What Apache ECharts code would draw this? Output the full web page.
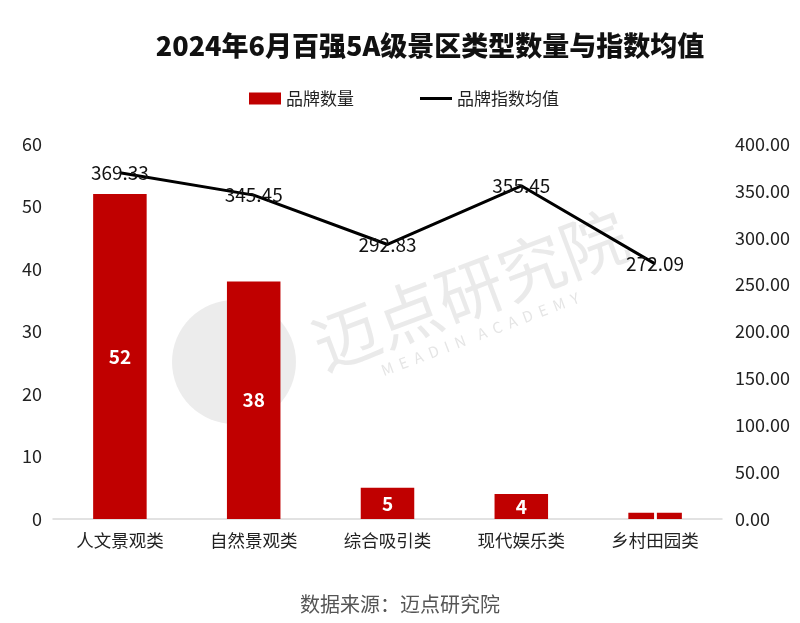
<!DOCTYPE html>
<html>
<head>
<meta charset="utf-8">
<script src="https://cdn.jsdelivr.net/npm/echarts@6/dist/echarts.min.js"></script>
<style>
  html, body { margin: 0; padding: 0; background: #fff; }
  #chart { width: 800px; height: 623px; }
</style>
</head>
<body>
<div id="chart"></div>
<script>
  // 景区类型
  const categories = ['人文景观类', '自然景观类', '综合吸引类', '现代娱乐类', '乡村田园类'];
  // 品牌数量
  const brandCount = [52, 38, 5, 4, 1];
  // 品牌指数均值
  const indexAvg = [369.33, 345.45, 292.83, 355.45, 272.09];

  const font = '"Noto Sans CJK SC", "Noto Sans", sans-serif';
  const chart = echarts.init(document.getElementById('chart'));

  const option = {
    backgroundColor: '#fff',
    textStyle: { fontFamily: font },
    title: {
      text: '2024年6月百强5A级景区类型数量与指数均值',
      left: 425,
      top: 27,
      textAlign: 'center',
      textStyle: { fontSize: 27, fontWeight: 900, color: '#111', fontFamily: font }
    },
    legend: {
      top: 85,
      left: 244,
      itemGap: 66,
      itemWidth: 32,
      itemHeight: 12,
      textStyle: { fontSize: 17, color: '#222', fontFamily: font },
      data: [
        { name: '品牌数量', icon: 'rect' },
        { name: '品牌指数均值', icon: 'path://M0,0H32V3H0Z', itemStyle: { color: '#000' } }
      ]
    },
    graphic: [
      {
        type: 'circle',
        shape: { cx: 234, cy: 362, r: 62 },
        style: { fill: 'rgba(160,160,160,0.2)' },
        z: 0
      },
      {
        type: 'text',
        x: 470, y: 290,
        rotation: 0.36,
        style: {
          text: '迈点研究院',
          fontSize: 66,
          fontFamily: font,
          fill: 'rgba(160,160,160,0.22)',
          align: 'center',
          verticalAlign: 'middle'
        },
        z: 0
      },
      {
        type: 'text',
        x: 480, y: 334,
        rotation: 0.36,
        style: {
          text: 'M  E  A  D  I  N    A  C  A  D  E  M  Y',
          fontSize: 15,
          fontFamily: font,
          fill: 'rgba(160,160,160,0.28)',
          align: 'center',
          verticalAlign: 'middle'
        },
        z: 0
      },
      {
        type: 'text',
        left: 'center',
        top: 594,
        style: {
          text: '数据来源：迈点研究院',
          fontSize: 20,
          fontFamily: font,
          fill: '#555'
        }
      }
    ],
    grid: {
      left: 53,
      right: 78,
      top: 144,
      bottom: 104
    },
    xAxis: {
      type: 'category',
      data: categories,
      axisLine: { lineStyle: { color: '#d9d9d9', width: 1.5 } },
      axisTick: { show: false },
      axisLabel: { fontSize: 17.5, color: '#222', margin: 13, fontFamily: font }
    },
    yAxis: [
      {
        type: 'value',
        min: 0,
        max: 60,
        interval: 10,
        splitLine: { show: false },
        axisLine: { show: false },
        axisTick: { show: false },
        axisLabel: { fontSize: 18, color: '#222', margin: 11, fontFamily: font }
      },
      {
        type: 'value',
        min: 0,
        max: 400,
        interval: 50,
        splitLine: { show: false },
        axisLine: { show: false },
        axisTick: { show: false },
        axisLabel: {
          fontSize: 18, color: '#222', margin: 13, fontFamily: font,
          formatter: v => v.toFixed(2)
        }
      }
    ],
    series: [
      {
        name: '品牌数量',
        type: 'bar',
        data: brandCount,
        barWidth: '40%',
        itemStyle: { color: '#c00000' },
        z: 2,
        label: {
          show: true,
          position: 'inside',
          color: '#fff',
          fontSize: 19,
          fontWeight: 'bold',
          fontFamily: font
        }
      },
      {
        name: '品牌指数均值',
        type: 'line',
        yAxisIndex: 1,
        data: indexAvg,
        showSymbol: true,
        symbol: 'circle',
        symbolSize: 1,
        lineStyle: { color: '#000', width: 3 },
        itemStyle: { color: '#000' },
        z: 3,
        label: {
          show: true,
          position: 'inside',
          color: '#111',
          fontSize: 19,
          fontFamily: font,
          formatter: p => p.value.toFixed(2)
        }
      }
    ]
  };

  chart.setOption(option);
</script>
</body>
</html>
